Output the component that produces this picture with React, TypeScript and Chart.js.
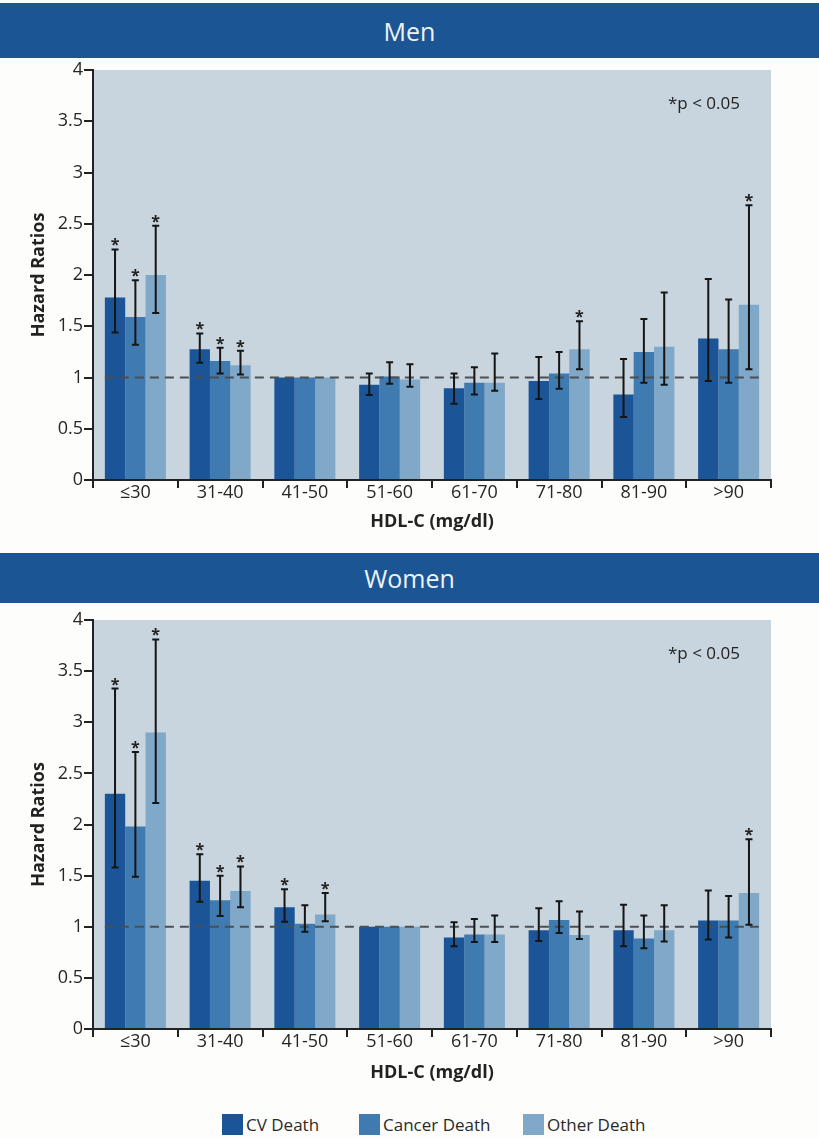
import React, { useEffect, useRef } from 'react';
import { Chart, registerables } from 'chart.js';

Chart.register(...registerables);

const categories = ['≤30', '31-40', '41-50', '51-60', '61-70', '71-80', '81-90', '>90'];
const seriesNames = ['CV Death', 'Cancer Death', 'Other Death'];
const seriesColors = ['#1b5597', '#3f7bb0', '#7fa8c9'];
const yTicks = [0, 0.5, 1, 1.5, 2, 2.5, 3, 3.5, 4];
const pNote = '*p < 0.05';
const xTitle = 'HDL-C (mg/dl)';
const yTitle = 'Hazard Ratios';
const referenceValue = 1;

// Men
const menCV = [1.78, 1.275, 1.0, 0.93, 0.895, 0.965, 0.835, 1.38];
const menCVLow = [1.44, 1.145, null, 0.83, 0.745, 0.79, 0.615, 0.965];
const menCVHigh = [2.25, 1.43, null, 1.04, 1.04, 1.2, 1.18, 1.96];
const menCVSig = [true, true, false, false, false, false, false, false];
const menCancer = [1.59, 1.16, 1.0, 1.01, 0.95, 1.04, 1.25, 1.275];
const menCancerLow = [1.32, 1.04, null, 0.94, 0.835, 0.89, 0.95, 0.95];
const menCancerHigh = [1.95, 1.29, null, 1.15, 1.1, 1.25, 1.57, 1.76];
const menCancerSig = [true, true, false, false, false, false, false, false];
const menOther = [2.0, 1.12, 1.0, 0.98, 0.95, 1.275, 1.3, 1.71];
const menOtherLow = [1.63, 1.03, null, 0.91, 0.87, 1.08, 0.93, 1.08];
const menOtherHigh = [2.48, 1.26, null, 1.13, 1.235, 1.55, 1.83, 2.68];
const menOtherSig = [true, true, false, false, false, true, false, true];

// Women
const womenCV = [2.3, 1.45, 1.19, 1.0, 0.895, 0.965, 0.965, 1.06];
const womenCVLow = [1.58, 1.245, 1.05, null, 0.81, 0.86, 0.81, 0.875];
const womenCVHigh = [3.33, 1.71, 1.366, null, 1.045, 1.18, 1.215, 1.355];
const womenCVSig = [true, true, true, false, false, false, false, false];
const womenCancer = [1.98, 1.26, 1.03, 1.0, 0.925, 1.065, 0.885, 1.06];
const womenCancerLow = [1.49, 1.105, 0.95, null, 0.85, 0.94, 0.79, 0.895];
const womenCancerHigh = [2.71, 1.5, 1.21, null, 1.075, 1.25, 1.11, 1.3];
const womenCancerSig = [true, true, false, false, false, false, false, false];
const womenOther = [2.9, 1.35, 1.12, 1.0, 0.925, 0.92, 0.965, 1.33];
const womenOtherLow = [2.21, 1.19, 1.055, null, 0.85, 0.88, 0.855, 1.02];
const womenOtherHigh = [3.81, 1.59, 1.33, null, 1.11, 1.15, 1.21, 1.855];
const womenOtherSig = [true, true, true, false, false, false, false, true];

const FONT = '"Open Sans", "Noto Sans", sans-serif';
const PLOT_BG = '#c8d5de';
const INK = '#222222';

const overlayPlugin = {
  id: 'hrOverlay',
  beforeDraw(chart: any) {
    const { ctx, chartArea: a } = chart;
    ctx.save();
    ctx.fillStyle = PLOT_BG;
    ctx.fillRect(a.left, a.top, a.right - a.left, a.bottom - a.top);
    ctx.restore();
  },
  afterDatasetsDraw(chart: any) {
    const { ctx, chartArea: a } = chart;
    const yScale = chart.scales.y;
    const metas = chart.data.datasets.map((_: any, i: number) => chart.getDatasetMeta(i));
    const first = metas[0].data[0];
    const lastMeta = metas[metas.length - 1];
    const last = lastMeta.data[lastMeta.data.length - 1];
    const x0 = first.x - first.width / 2;
    const x1 = last.x + last.width / 2;
    const yRef = yScale.getPixelForValue(referenceValue);

    ctx.save();
    ctx.strokeStyle = '#4a4f55';
    ctx.lineWidth = 2;
    ctx.setLineDash([9, 6]);
    ctx.beginPath();
    ctx.moveTo(x0, yRef);
    ctx.lineTo(x1, yRef);
    ctx.stroke();
    ctx.restore();

    ctx.save();
    ctx.strokeStyle = '#151515';
    ctx.fillStyle = INK;
    ctx.lineWidth = 2;
    chart.data.datasets.forEach((ds: any, i: number) => {
      metas[i].data.forEach((el: any, j: number) => {
        const lo = ds.errLow[j];
        const hi = ds.errHigh[j];
        if (lo == null || hi == null) return;
        const x = el.x;
        const yl = yScale.getPixelForValue(lo);
        const yh = yScale.getPixelForValue(hi);
        ctx.beginPath();
        ctx.moveTo(x, yl);
        ctx.lineTo(x, yh);
        ctx.moveTo(x - 3.5, yl);
        ctx.lineTo(x + 3.5, yl);
        ctx.moveTo(x - 3.5, yh);
        ctx.lineTo(x + 3.5, yh);
        ctx.stroke();
        if (ds.sig[j]) {
          ctx.font = `bold 16px ${FONT}`;
          ctx.textAlign = 'center';
          ctx.textBaseline = 'alphabetic';
          ctx.fillText('*', x, yh + 1);
        }
      });
    });
    ctx.restore();

    ctx.save();
    ctx.fillStyle = INK;
    ctx.font = `17px ${FONT}`;
    ctx.textAlign = 'left';
    ctx.textBaseline = 'middle';
    ctx.fillText(pNote, a.right - 103, a.top + 34);
    ctx.restore();
  },
};

type PanelProps = {
  top: number;
  height: number;
  areaTop: number;
  xHeight: number;
  xTitlePad: number;
  values: number[][];
  lows: (number | null)[][];
  highs: (number | null)[][];
  sigs: boolean[][];
};

function HRChart(p: PanelProps) {
  const ref = useRef<HTMLCanvasElement>(null);
  useEffect(() => {
    const chart = new Chart(ref.current as HTMLCanvasElement, {
      type: 'bar',
      data: {
        labels: categories,
        datasets: p.values.map((v, i) => ({
          label: seriesNames[i],
          data: v,
          backgroundColor: seriesColors[i],
          borderWidth: 0,
          categoryPercentage: 0.72,
          barPercentage: 1,
          errLow: p.lows[i],
          errHigh: p.highs[i],
          sig: p.sigs[i],
        })) as any,
      },
      options: {
        responsive: false,
        animation: false,
        devicePixelRatio: 1,
        layout: { padding: { left: 0, right: 48, top: p.areaTop, bottom: 0 } },
        plugins: { legend: { display: false }, tooltip: { enabled: false } },
        scales: {
          x: {
            z: 1,
            grid: {
              offset: true,
              drawOnChartArea: false,
              drawTicks: true,
              tickLength: 8,
              color: INK,
              lineWidth: 2,
            },
            border: { display: true, color: INK, width: 2 },
            ticks: {
              font: { family: FONT, size: 18 },
              color: '#262626',
              padding: -6,
              maxRotation: 0,
              autoSkip: false,
            },
            title: {
              display: true,
              text: xTitle,
              font: { family: FONT, size: 18, weight: 'bold' },
              color: INK,
              padding: { top: 0, bottom: p.xTitlePad },
            },
            afterFit: (s: any) => {
              s.height = p.xHeight;
            },
          } as any,
          y: {
            z: 1,
            min: 0,
            max: 4,
            afterBuildTicks: (s: any) => {
              s.ticks = yTicks.map((v) => ({ value: v }));
            },
            grid: {
              drawOnChartArea: false,
              drawTicks: true,
              tickLength: 9,
              color: INK,
              lineWidth: 2,
            },
            border: { display: true, color: INK, width: 2 },
            ticks: {
              font: { family: FONT, size: 18 },
              color: '#262626',
              padding: 1,
              callback: (v: any) => String(v),
            },
            title: {
              display: true,
              text: yTitle,
              font: { family: FONT, size: 18, weight: 'bold' },
              color: INK,
              padding: { top: 28, bottom: 0 },
            },
            afterFit: (s: any) => {
              s.width = 93;
            },
          } as any,
        },
      },
      plugins: [overlayPlugin],
    });
    return () => chart.destroy();
  }, []);
  return (
    <canvas
      ref={ref}
      width={819}
      height={p.height}
      style={{ position: 'absolute', left: 0, top: p.top, width: 819, height: p.height }}
    />
  );
}

function Banner({ text, top, height }: { text: string; top: number; height: number }) {
  return (
    <div
      style={{
        position: 'absolute',
        left: 0,
        top,
        width: 819,
        height,
        background: '#1b5594',
        color: '#eef3f8',
        fontFamily: FONT,
        fontSize: 25,
        display: 'flex',
        alignItems: 'center',
        justifyContent: 'center',
      }}
    >
      {text}
    </div>
  );
}

const legendLefts = [222, 359, 523];

export default function App() {
  return (
    <div
      style={{
        position: 'absolute',
        left: 0,
        top: 0,
        width: 819,
        height: 1138,
        background: '#fdfdfb',
        overflow: 'hidden',
      }}
    >
      <Banner text="Men" top={3} height={55} />
      <HRChart
        top={58}
        height={487}
        areaTop={12}
        xHeight={65}
        xTitlePad={12}
        values={[menCV, menCancer, menOther]}
        lows={[menCVLow, menCancerLow, menOtherLow]}
        highs={[menCVHigh, menCancerHigh, menOtherHigh]}
        sigs={[menCVSig, menCancerSig, menOtherSig]}
      />
      <Banner text="Women" top={553} height={50} />
      <HRChart
        top={603}
        height={491}
        areaTop={17}
        xHeight={65}
        xTitlePad={10}
        values={[womenCV, womenCancer, womenOther]}
        lows={[womenCVLow, womenCancerLow, womenOtherLow]}
        highs={[womenCVHigh, womenCancerHigh, womenOtherHigh]}
        sigs={[womenCVSig, womenCancerSig, womenOtherSig]}
      />
      {seriesNames.map((name, i) => (
        <div
          key={name}
          style={{
            position: 'absolute',
            left: legendLefts[i],
            top: 1114,
            height: 21,
            display: 'flex',
            alignItems: 'center',
            fontFamily: FONT,
            fontSize: 17,
            color: '#2a2a2a',
            whiteSpace: 'nowrap',
          }}
        >
          <span style={{ display: 'inline-block', width: 21, height: 21, background: seriesColors[i], marginRight: 3 }} />
          <span>{name}</span>
        </div>
      ))}
    </div>
  );
}
